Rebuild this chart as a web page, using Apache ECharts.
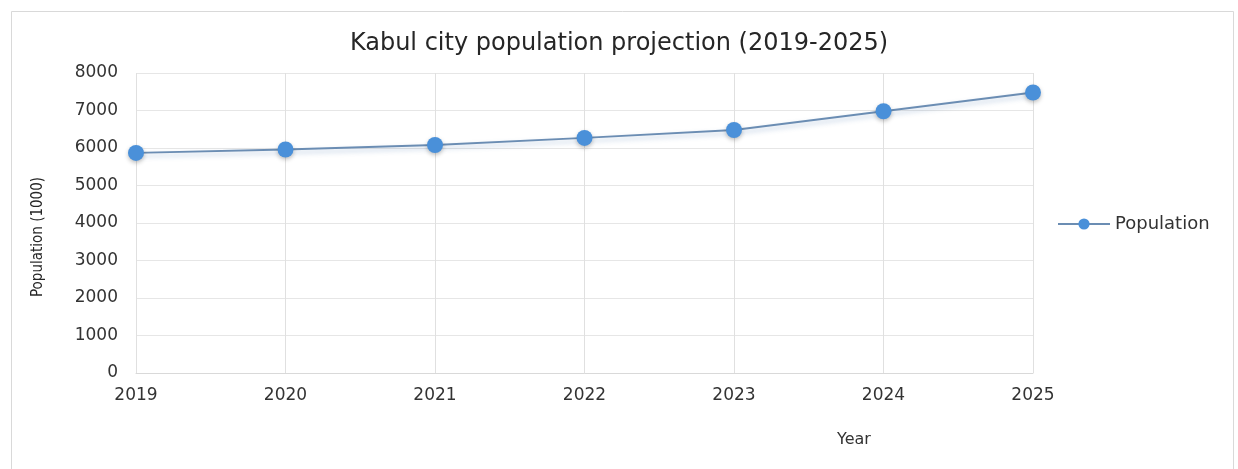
<!DOCTYPE html>
<html>
<head>
<meta charset="utf-8">
<script src="https://cdn.jsdelivr.net/npm/echarts@6/dist/echarts.min.js"></script>
<style>
html,body{margin:0;padding:0;background:#fff;}
#chart{width:1238px;height:469px;}
</style>
</head>
<body>
<div id="chart"></div>
<script>
const years = ['2019','2020','2021','2022','2023','2024','2025'];
const population = [5870, 5960, 6080, 6270, 6480, 6980, 7480];
const seriesName = 'Population';
const titleText = 'Kabul city population projection (2019-2025)';
const yAxisName = 'Population (1000)';
const xAxisName = 'Year';

const chart = echarts.init(document.getElementById('chart'));
chart.setOption({
  backgroundColor: '#fff',
  animation: false,
  title: [
    { text: titleText, left: 'center', top: 27,
      textStyle: { fontFamily: 'DejaVu Sans', fontSize: 24, fontWeight: 'normal', color: '#262626' } },
    { text: xAxisName, left: 832, top: 427,
      textStyle: { fontFamily: 'DejaVu Sans', fontSize: 16, fontWeight: 'normal', color: '#333' } }
  ],
  graphic: [
    { type: 'rect', left: 9, top: 9, shape: { width: 1222, height: 480 },
      style: { fill: 'none', stroke: '#d9d9d9', lineWidth: 1 }, silent: true },
    { type: 'text', x: 38, y: 237, rotation: Math.PI / 2, silent: true,
      style: { text: yAxisName, fontFamily: 'DejaVu Sans Condensed', fontSize: 15, fill: '#262626',
        textAlign: 'center', textVerticalAlign: 'middle' } }
  ],
  legend: {
    data: [seriesName], left: 1052, top: 210, orient: 'vertical',
    itemWidth: 52, itemHeight: 14, itemGap: 8,
    textStyle: { fontFamily: 'DejaVu Sans', fontSize: 18, color: '#333' }
  },
  grid: { left: 136, right: 205, top: 73, bottom: 96 },
  xAxis: {
    type: 'category', data: years, boundaryGap: false,
    axisLine: { lineStyle: { color: '#d9d9d9' } },
    axisTick: { show: false },
    splitLine: { show: true, lineStyle: { color: '#e0e0e0' } },
    axisLabel: { fontFamily: 'DejaVu Sans', fontSize: 17, color: '#333', margin: 14 }
  },
  yAxis: {
    type: 'value', min: 0, max: 8000, interval: 1000,
    axisLine: { show: false },
    axisTick: { show: false },
    splitLine: { lineStyle: { color: '#e6e6e6' } },
    axisLabel: { fontFamily: 'DejaVu Sans', fontSize: 17, color: '#333', margin: 18,
      formatter: function (v) { return String(v); } }
  },
  series: [{
    name: seriesName, type: 'line', data: population,
    symbol: 'circle', symbolSize: 16,
    itemStyle: { color: '#4a90d9', shadowColor: 'rgba(0,0,0,0.25)', shadowBlur: 4, shadowOffsetY: 2 },
    lineStyle: { color: '#6b8db3', width: 2, shadowColor: 'rgba(60,110,170,0.35)', shadowBlur: 5, shadowOffsetY: 3 }
  }]
});
</script>
</body>
</html>
